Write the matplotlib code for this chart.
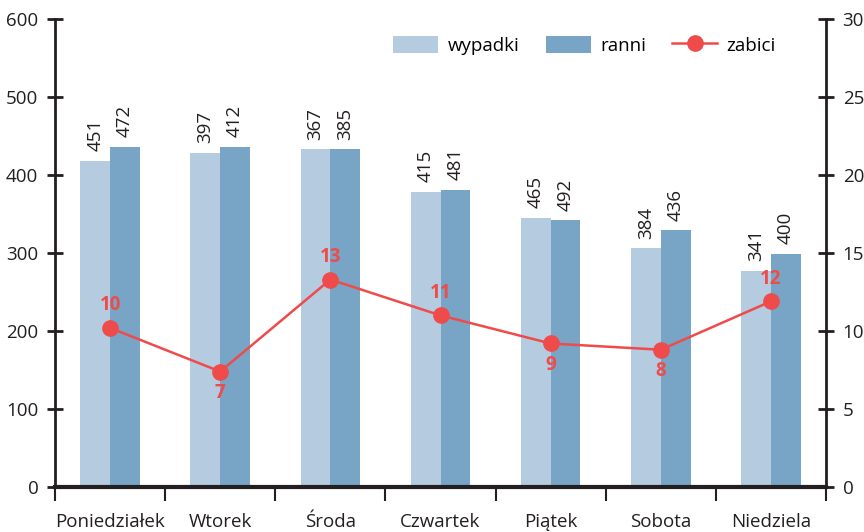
import matplotlib.pyplot as plt
import numpy as np

plt.rcParams['font.family'] = ['Open Sans', 'DejaVu Sans']

days = ['Poniedziałek', 'Wtorek', 'Środa', 'Czwartek', 'Piątek', 'Sobota', 'Niedziela']
# bar heights as drawn, and the numbers printed above them
wypadki = [418, 428, 433, 378, 345, 306, 277]
ranni = [436, 436, 433, 381, 342, 329, 299]
wypadki_lab = [451, 397, 367, 415, 465, 384, 341]
ranni_lab = [472, 412, 385, 481, 492, 436, 400]
zabici = [10.2, 7.4, 13.3, 11.0, 9.2, 8.8, 11.9]
zabici_lab = [10, 7, 13, 11, 9, 8, 12]
zabici_above = [True, False, True, True, False, False, True]

LIGHT = '#b4cbe0'
DARK = '#78a4c6'
RED = '#ef4b4b'
AX = '#231f20'
FS = 13.5

fig = plt.figure(figsize=(8.64, 5.32), dpi=100)
ax = fig.add_axes([55/864, 45/532, 771/864, 468/532])
ax2 = ax.twinx()

x = np.arange(len(days))
w = 0.27
b1 = ax.bar(x - w/2, wypadki, w, color=LIGHT, label='wypadki', zorder=2)
b2 = ax.bar(x + w/2, ranni, w, color=DARK, label='ranni', zorder=2)

for xi, h, t in zip(x, wypadki, wypadki_lab):
    ax.annotate(str(t), (xi - w/2, h), xytext=(0, 7), textcoords='offset points',
                rotation=90, ha='center', va='bottom', fontsize=FS, color=AX)
for xi, h, t in zip(x, ranni, ranni_lab):
    ax.annotate(str(t), (xi + w/2, h), xytext=(0, 7), textcoords='offset points',
                rotation=90, ha='center', va='bottom', fontsize=FS, color=AX)

ln, = ax2.plot(x, zabici, color=RED, lw=1.8, marker='o', ms=11, label='zabici', zorder=3)
for xi, v, t, up in zip(x, zabici, zabici_lab, zabici_above):
    ax2.annotate(str(t), (xi, v), xytext=(0, 9 if up else -8), textcoords='offset points',
                 ha='center', va='bottom' if up else 'top', fontsize=FS,
                 fontweight='bold', color=RED)

ax.set_xlim(-0.5, 6.5)
ax.set_ylim(0, 600)
ax2.set_ylim(0, 30)
ax.set_yticks(range(0, 601, 100))
ax2.set_yticks(range(0, 31, 5))

ax.set_xticks(x)
ax.set_xticklabels(days, fontsize=FS, color=AX)
ax.set_xticks(np.arange(-0.5, 7, 1), minor=True)
ax.tick_params(axis='x', which='major', length=0, pad=19)
ax.tick_params(axis='x', which='minor', direction='out', length=10, width=1.5, color=AX)
ax.tick_params(axis='y', direction='inout', length=12, width=2, color=AX,
               labelsize=FS, labelcolor=AX, pad=6)
ax2.tick_params(axis='y', direction='inout', length=12, width=2, color=AX,
                labelsize=FS, labelcolor=AX, pad=6)

for a in (ax, ax2):
    a.spines['top'].set_visible(False)
    for s in ('left', 'right', 'bottom'):
        a.spines[s].set_color(AX)
        a.spines[s].set_linewidth(2)
ax.spines['bottom'].set_linewidth(3)
ax.spines['right'].set_visible(False)
ax2.spines['left'].set_visible(False)
ax2.spines['bottom'].set_visible(False)

ax.legend([b1, b2, ln], ['wypadki', 'ranni', 'zabici'], ncol=3, frameon=False,
          loc='center right', bbox_to_anchor=(0.935, 0.944), borderaxespad=0,
          borderpad=0, fontsize=FS, handlelength=2.4, handleheight=1.0,
          columnspacing=1.4, handletextpad=0.5)

fig.savefig('out.png', dpi=100)
